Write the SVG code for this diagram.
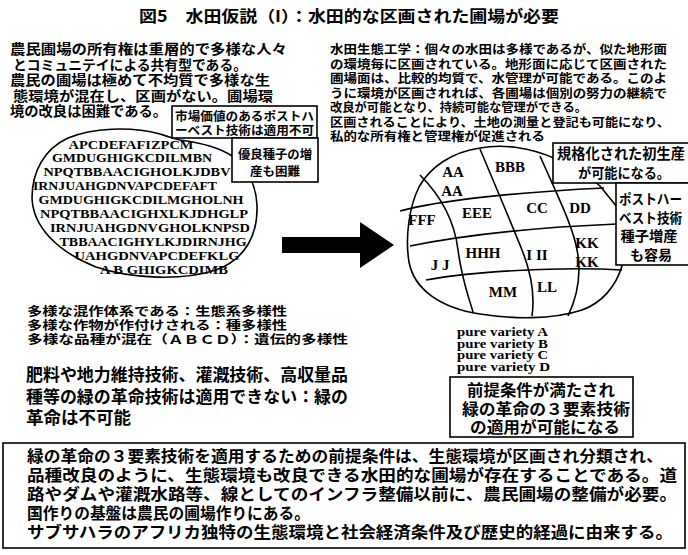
<svg xmlns="http://www.w3.org/2000/svg" width="688" height="555" viewBox="0 0 688 555">
<style>
.jp{font-family:"Noto Sans CJK JP","Noto Sans CJK SC",sans-serif;font-weight:700;fill:#000}
.lat{font-family:"Liberation Serif","DejaVu Serif",serif;font-weight:700;fill:#000}
.ln{fill:none;stroke:#000;stroke-width:1.6}
.box{fill:#fff;stroke:#000;stroke-width:1.6}
</style>
<rect width="688" height="555" fill="#fff"/>
<g id="title">
<text class="jp" x="349" y="22" font-size="16" text-anchor="middle" textLength="420" lengthAdjust="spacingAndGlyphs">図5　水田仮説（I）：水田的な区画された圃場が必要</text>
</g>
<g id="left-desc" class="jp" font-size="13.3">
<text x="10" y="54" textLength="277" lengthAdjust="spacingAndGlyphs">農民圃場の所有権は重層的で多様な人々</text>
<text x="13" y="69.5" textLength="234" lengthAdjust="spacingAndGlyphs">とコミュニテイによる共有型である。</text>
<text x="10" y="85" textLength="260" lengthAdjust="spacingAndGlyphs">農民の圃場は極めて不均質で多様な生</text>
<text x="13" y="100.5" textLength="260" lengthAdjust="spacingAndGlyphs">態環境が混在し、区画がない。圃場環</text>
<text x="10" y="116" textLength="157" lengthAdjust="spacingAndGlyphs">境の改良は困難である。</text>
</g>
<g id="left-field">
<path class="ln" d="M160,134 C130,126 92,128 68,138 C44,149 32,172 32,198 C33,226 56,251 96,267 C132,279 182,281 216,270 C246,259 258,234 257,205 C256,184 247,168 232,156 C220,148 203,143 180,140 C172,138 166,136 160,134 Z"/>
<g class="lat" font-size="13" text-anchor="middle">
<text x="131" y="148.5" textLength="125" lengthAdjust="spacingAndGlyphs">APCDEFAFIZPCM</text>
<text x="132" y="162.4" textLength="160" lengthAdjust="spacingAndGlyphs">GMDUGHIGKCDILMBN</text>
<text x="137" y="176.3" textLength="187" lengthAdjust="spacingAndGlyphs">NPQTBBAACIGHOLKJDBV</text>
<text x="125" y="190.2" textLength="184" lengthAdjust="spacingAndGlyphs">IRNJUAHGDNVAPCDEFAFT</text>
<text x="141" y="204.1" textLength="205" lengthAdjust="spacingAndGlyphs">GMDUGHIGKCDILMGHOLNH</text>
<text x="144" y="218" textLength="208" lengthAdjust="spacingAndGlyphs">NPQTBBAACIGHXLKJDHGLP</text>
<text x="150" y="231.9" textLength="200" lengthAdjust="spacingAndGlyphs">IRNJUAHGDNVGHOLKNPSD</text>
<text x="153" y="245.8" textLength="187" lengthAdjust="spacingAndGlyphs">TBBAACIGHYLKJDIRNJHG</text>
<text x="157" y="259.7" textLength="165" lengthAdjust="spacingAndGlyphs">UAHGDNVAPCDEFKLG</text>
<text x="164" y="273.6" textLength="128" lengthAdjust="spacingAndGlyphs">A B GHIGKCDIMB</text>
</g>
</g>
<g id="box-market">
<rect class="box" x="172" y="106" width="145" height="32"/>
<text class="jp" x="175" y="120.5" font-size="12" textLength="139" lengthAdjust="spacingAndGlyphs">市場価値のあるポストハ</text>
<text class="jp" x="175" y="134.5" font-size="12" textLength="139" lengthAdjust="spacingAndGlyphs">ーベスト技術は適用不可</text>
</g>
<g id="box-seed">
<rect class="box" x="232" y="138" width="86" height="44"/>
<text class="jp" x="275" y="159" font-size="12.5" text-anchor="middle" textLength="74" lengthAdjust="spacingAndGlyphs">優良種子の増</text>
<text class="jp" x="275" y="176" font-size="12.5" text-anchor="middle">産も困難</text>
</g>
<g id="right-desc" class="jp" font-size="12.2">
<text x="330" y="54" textLength="337" lengthAdjust="spacingAndGlyphs">水田生態工学：個々の水田は多様であるが、似た地形面</text>
<text x="330" y="68.5" textLength="337" lengthAdjust="spacingAndGlyphs">の環境毎に区画されている。地形面に応じて区画された</text>
<text x="330" y="83" textLength="337" lengthAdjust="spacingAndGlyphs">圃場面は、比較的均質で、水管理が可能である。このよ</text>
<text x="330" y="97.5" textLength="337" lengthAdjust="spacingAndGlyphs">うに環境が区画されれば、各圃場は個別の努力の継続で</text>
<text x="330" y="112" textLength="257" lengthAdjust="spacingAndGlyphs">改良が可能となり、持続可能な管理ができる。</text>
<text x="330" y="126.5" textLength="340" lengthAdjust="spacingAndGlyphs">区画されることにより、土地の測量と登記も可能になり、</text>
<text x="330" y="141" textLength="215" lengthAdjust="spacingAndGlyphs">私的な所有権と管理権が促進される</text>
</g>
<g id="connectors">
<polygon points="282,237 360,237 360,222 394,245 360,268 360,253 282,253" fill="#000"/>
</g>
<g id="right-field">
<path class="ln" d="M556,159 C530,147 502,144 480,148 C452,152 430,167 419,187 C409,207 405,238 409,262 C414,289 440,308 480,314 C512,319 552,320 582,310 C602,303 616,286 622,266 L622,220 L617,207 L600,186 L594,181"/>
<path class="ln" d="M400,211 C440,200 520,192 604,188"/>
<path class="ln" d="M410,246 C450,238 520,228 617,224"/>
<path class="ln" d="M426,280 C470,272 560,266 622,270"/>
<path class="ln" d="M420,175 C445,200 455,225 458,250 C462,280 468,295 473,312"/>
<path class="ln" d="M480,149 C495,185 510,220 522,250 C532,275 535,295 532,316"/>
<path class="ln" d="M540,156 C555,190 570,220 576,245 C582,270 578,295 568,316"/>
<g class="lat" font-size="15" text-anchor="middle">
<text x="453" y="177">AA</text>
<text x="452" y="196">AA</text>
<text x="510" y="172">BBB</text>
<text x="422" y="225">FFF</text>
<text x="477" y="218">EEE</text>
<text x="537" y="213">CC</text>
<text x="580" y="213">DD</text>
<text x="483" y="258">HHH</text>
<text x="537" y="260">I II</text>
<text x="440" y="270">J J</text>
<text x="587" y="248">KK</text>
<text x="587" y="267">KK</text>
<text x="503" y="297">MM</text>
<text x="547" y="292">LL</text>
</g>
</g>
<g id="box-standard">
<rect class="box" x="553" y="143" width="150" height="40"/>
<text class="jp" x="557" y="159" font-size="14.5" textLength="128" lengthAdjust="spacingAndGlyphs">規格化された初生産</text>
<text class="jp" x="578" y="178" font-size="14" textLength="92" lengthAdjust="spacingAndGlyphs">が可能になる。</text>
</g>
<g id="box-postharvest">
<rect class="box" x="616" y="183" width="90" height="82"/>
<g class="jp" font-size="14">
<text x="619" y="204" textLength="63" lengthAdjust="spacingAndGlyphs">ポストハー</text>
<text x="619" y="223" textLength="63" lengthAdjust="spacingAndGlyphs">ベスト技術</text>
<text x="649" y="241" text-anchor="middle" textLength="57" lengthAdjust="spacingAndGlyphs">種子増産</text>
<text x="651" y="260" text-anchor="middle">も容易</text>
</g>
</g>
<g id="pure-variety" class="lat" font-size="12">
<text x="457" y="336" textLength="91" lengthAdjust="spacingAndGlyphs">pure variety A</text>
<text x="457" y="347.5" textLength="91" lengthAdjust="spacingAndGlyphs">pure variety B</text>
<text x="457" y="359" textLength="91" lengthAdjust="spacingAndGlyphs">pure variety C</text>
<text x="457" y="370.5" textLength="93" lengthAdjust="spacingAndGlyphs">pure variety D</text>
</g>
<g id="box-premise">
<rect class="box" x="450" y="377" width="183" height="60"/>
<g class="jp" font-size="15.5" text-anchor="middle">
<text x="541" y="396" textLength="148" lengthAdjust="spacingAndGlyphs">前提条件が満たされ</text>
<text x="546" y="414.5" textLength="168" lengthAdjust="spacingAndGlyphs">緑の革命の３要素技術</text>
<text x="545" y="433" textLength="150" lengthAdjust="spacingAndGlyphs">の適用が可能になる</text>
</g>
</g>
<g id="left-diversity" class="jp" font-size="12">
<text x="27" y="316" textLength="260" lengthAdjust="spacingAndGlyphs">多様な混作体系である：生態系多様性</text>
<text x="27" y="330" textLength="260" lengthAdjust="spacingAndGlyphs">多様な作物が作付けされる：種多様性</text>
<text x="27" y="344" textLength="321" lengthAdjust="spacingAndGlyphs">多様な品種が混在（ＡＢＣＤ）：遺伝的多様性</text>
</g>
<g id="left-green" class="jp" font-size="17">
<text x="26" y="381" textLength="322" lengthAdjust="spacingAndGlyphs">肥料や地力維持技術、灌漑技術、高収量品</text>
<text x="26" y="403" textLength="322" lengthAdjust="spacingAndGlyphs">種等の緑の革命技術は適用できない：緑の</text>
<text x="26" y="424" textLength="105" lengthAdjust="spacingAndGlyphs">革命は不可能</text>
</g>
<g id="bottom-box">
<rect class="box" x="3" y="443" width="682" height="105"/>
<g class="jp" font-size="16">
<text x="27" y="462" textLength="636" lengthAdjust="spacingAndGlyphs">緑の革命の３要素技術を適用するための前提条件は、生態環境が区画され分類され、</text>
<text x="27" y="481" textLength="650" lengthAdjust="spacingAndGlyphs">品種改良のように、生態環境も改良できる水田的な圃場が存在することである。道</text>
<text x="27" y="500" textLength="650" lengthAdjust="spacingAndGlyphs">路やダムや灌漑水路等、線としてのインフラ整備以前に、農民圃場の整備が必要。</text>
<text x="27" y="519" textLength="283" lengthAdjust="spacingAndGlyphs">国作りの基盤は農民の圃場作りにある。</text>
<text x="27" y="538" textLength="646" lengthAdjust="spacingAndGlyphs">サブサハラのアフリカ独特の生態環境と社会経済条件及び歴史的経過に由来する。</text>
</g>
</g>
</svg>
